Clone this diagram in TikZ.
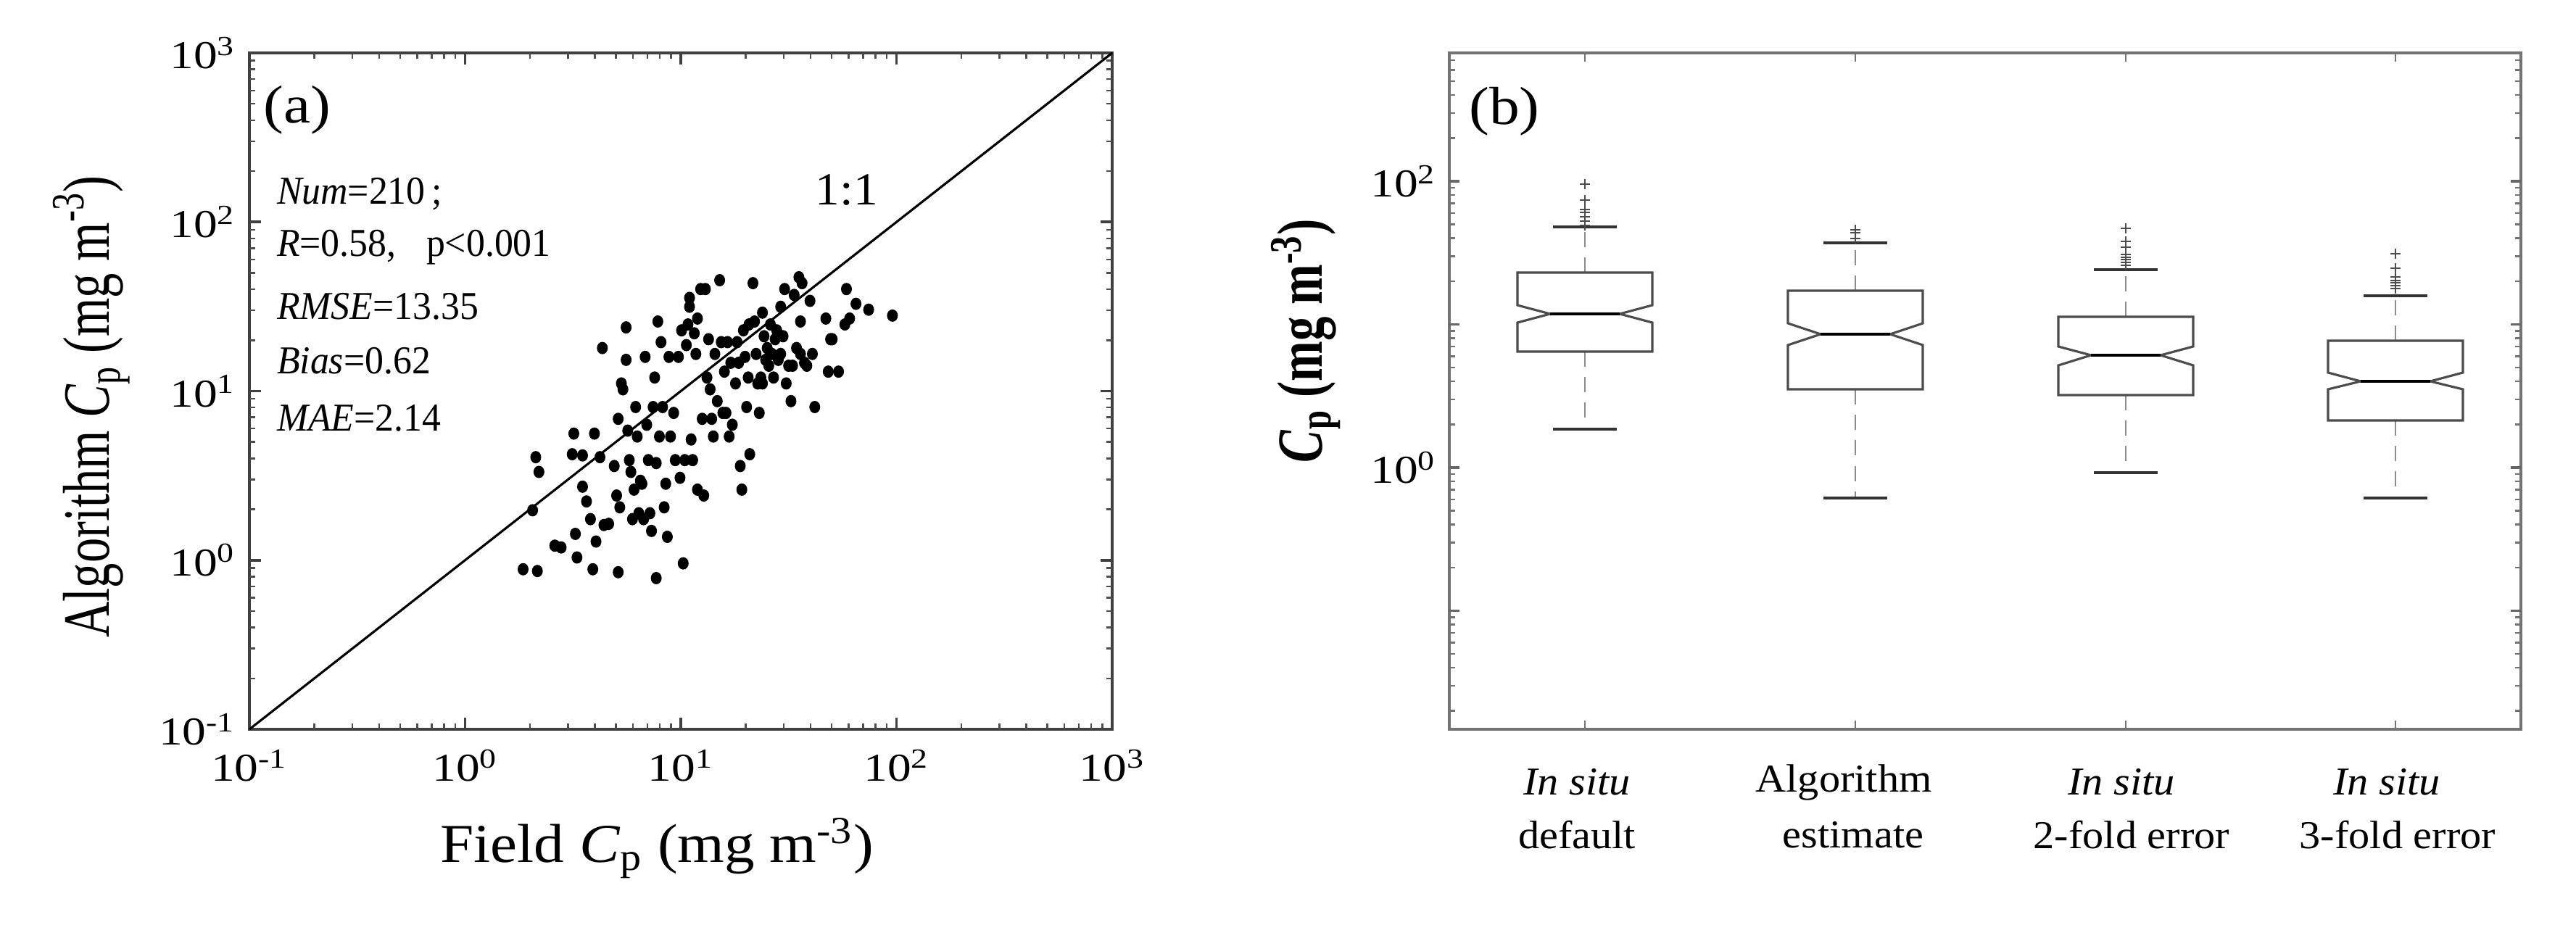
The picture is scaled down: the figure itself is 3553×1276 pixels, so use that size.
\documentclass[tikz,border=0pt]{standalone}
\usepackage{fontspec}
\setmainfont{Liberation Serif}
\begin{document}
\begin{tikzpicture}[x=0.01cm,y=-0.01cm,
  tx/.style={transform shape,xscale=1.33,inner sep=1pt},
  tick/.style={transform shape,xscale=1.2,inner sep=1pt,font={\fontsize{15.5}{17}\selectfont}},
  stat/.style={transform shape,xscale=0.95,inner sep=1pt,font={\fontsize{15.5}{18}\selectfont},anchor=west},
  catl/.style={transform shape,xscale=1.07,inner sep=1pt,font={\fontsize{15.5}{18}\selectfont}},
  axa/.style={draw=black!75,line width=1.2pt},
  axb/.style={draw=black!55,line width=1.4pt},
  bx/.style={draw=black!70,line width=0.9pt},
  wh/.style={draw=black!45,line width=0.8pt,dash pattern=on 6pt off 4pt},
  whcap/.style={draw=black!80,line width=1.1pt},
  dot/.style={fill=black}]
\useasboundingbox (0,0) rectangle (3553,1276);
% ---------------- panel (a)
\draw[axa] (344,73) rectangle (1534,1006);
\foreach \d in {-1,0,1,2}{
  \foreach \m in {2,...,9}{
    \pgfmathsetmacro{\px}{344+(\d+1+log10(\m))*297.5}
    \pgfmathsetmacro{\py}{1006-(\d+1+log10(\m))*233.25}
    \draw[black!70,line width=0.7pt] (\px,1006)--(\px,998) (\px,73)--(\px,81);
    \draw[black!70,line width=0.7pt] (344,\py)--(352,\py) (1534,\py)--(1526,\py);
  }}
\foreach \k in {0,...,4}{
  \pgfmathsetmacro{\px}{344+\k*297.5}
  \pgfmathsetmacro{\py}{1006-\k*233.25}
  \draw[black!75,line width=1pt] (\px,1006)--(\px,990) (\px,73)--(\px,89);
  \draw[black!75,line width=1pt] (344,\py)--(360,\py) (1534,\py)--(1518,\py);
}
\node[tick,anchor=north] (xa0) at (344,1030) {10\textsuperscript{-1}};
\node[tick,anchor=north] (xa1) at (641.5,1030) {10\textsuperscript{0}};
\node[tick,anchor=north] (xa2) at (939,1030) {10\textsuperscript{1}};
\node[tick,anchor=north] (xa3) at (1236.5,1030) {10\textsuperscript{2}};
\node[tick,anchor=north] (xa4) at (1534,1030) {10\textsuperscript{3}};
\node[tick,anchor=east] (ya0) at (330,1006) {10\textsuperscript{-1}};
\node[tick,anchor=east] (ya1) at (330,772.75) {10\textsuperscript{0}};
\node[tick,anchor=east] (ya2) at (330,539.5) {10\textsuperscript{1}};
\node[tick,anchor=east] (ya3) at (330,306.25) {10\textsuperscript{2}};
\node[tick,anchor=east] (ya4) at (330,73) {10\textsuperscript{3}};
\coordinate (ll) at (344,1006);
\coordinate (ur) at (1534,73);
\draw[black,line width=0.9pt] (ll)--(ur);
\node[tx,xscale=0.85,font={\fontsize{21}{24}\selectfont}] (la) at (410,152) {(a)};
\node[tx,xscale=0.8,font={\fontsize{18}{20}\selectfont}] (one) at (1168,262) {1:1};
\node[stat] (s1) at (378,268) {\textit{Num}=210\,;};
\node[stat] (s2) at (378,341) {\textit{R}=0.58,\;\; p<0.001};
\node[stat] (s3) at (378,423) {\textit{RMSE}=13.35};
\node[stat] (s4) at (378,498) {\textit{Bias}=0.62};
\node[stat] (s5) at (378,577) {\textit{MAE}=2.14};
\node[tx,rotate=90,font={\fontsize{19.5}{22}\selectfont}] (yla) at (126,561) {Algorithm \textit{C}\textsubscript{p} (mg m\textsuperscript{-3})};
\node[transform shape,xscale=1.1,inner sep=1pt,font={\fontsize{21.5}{24}\selectfont}] (xla) at (906,1170) {Field \textit{C}\textsubscript{p} (mg m\textsuperscript{-3})};
\begin{scope}[x=0.01092cm,y=-0.00813cm]
\foreach \a/\b in {660/965,678/968,672/865,676/775,680/800,700/925,708/928,728/945,726/905,724/735,722/770,735/772,735/825,740/850,745/880,748/965,750/735,752/918,757/775,760/590,762/890,768/888,775/790,778/840,780/970,780/710,782/860,784/650,786/660,790/555,790/610,792/730,794/780,796/800,798/880,800/830,802/690,804/740,806/870,808/815,810/820,812/880,814/605,816/720,818/780,820/870,822/900,824/690,826/640,828/785,828/980,830/545,832/740,834/580,836/690,838/860,840/820,842/910,844/605,846/740,850/700,852/780,856/605,858/810,862/955,864/780,866/585,868/550,870/505,872/745,874/780,876/565,878/600,880/830,884/490,886/710,888/840,890/490,892/640,894/575,896/660,898/710,900/740,902/600,905/680,908/475,910/580,912/700,914/630,916/700,918/580,920/740,922/615,924/720,928/650,930/580,932/615,934/790,936/830,938/560,940/605,942/690,944/640,946/770,950/480,952/545,954/600,956/650,958/700,960/640,962/530,964/570,966/610,968/590,970/620,972/550,974/600,976/640,978/575,980/560,982/610,985/600,988/570,990/490,992/650,995/620,998/680,1002/500,1005/590,1008/470,1010/545,1012/480,1015/615,1018/620,1022/510,1025/600,1028/690,1042/540,1045/630,1048/575,1050/575,1058/630,1066/550,1068/490,1072/540,1080/515,1096/525,1126/535,1010/600,860/560,880/540,870/520,945/550,962/650,985/520,1000/620}
  \fill[dot] (\a,\b) ellipse [x radius=0.075cm, y radius=0.085cm];
\end{scope}
% ---------------- panel (b)
\draw[axb] (1999,73) rectangle (3477,1006);
\foreach \d in {-2,-1,0,1,2}{
  \foreach \m in {2,...,9}{
    \pgfmathsetmacro{\py}{645-(\d+log10(\m))*197.5}
    \pgfmathparse{(\py>80)&&(\py<1000)?1:0}
    \ifnum\pgfmathresult=1
      \draw[black!55,line width=0.7pt] (1999,\py)--(2007,\py) (3477,\py)--(3469,\py);
    \fi
  }}
\foreach \d in {-1,0,1,2}{
  \pgfmathsetmacro{\py}{645-\d*197.5}
  \draw[black!60,line width=1pt] (1999,\py)--(2013,\py) (3477,\py)--(3463,\py);
}
\node[tick,anchor=east] (yb2) at (1986,250) {10\textsuperscript{2}};
\node[tick,anchor=east] (yb0) at (1986,645) {10\textsuperscript{0}};
\node[tx,xscale=0.85,font={\fontsize{21}{24}\selectfont}] (lb) at (2075,154) {(b)};
\node[tx,rotate=90,font={\fontsize{19}{22}\selectfont\bfseries}] (ylb) at (1801,470) {\textit{C}\textsubscript{p} (mg m\textsuperscript{-3})};
\foreach \cx/\t/\b/\md/\na/\nb/\wt/\wb in
 {2186/376/485/433/421/445/313/592,
  2559/401/537/461/446/476/335/687,
  2932/437/545/490/478/504/372/652,
  3304/470/580/526/514/537/408/687}{
  \draw[black!55,line width=0.8pt] (\cx,73)--(\cx,85) (\cx,1006)--(\cx,994);
  \draw[wh] (\cx,\t)--(\cx,\wt) (\cx,\b)--(\cx,\wb);
  \draw[whcap] (\cx-44,\wt)--(\cx+44,\wt) (\cx-44,\wb)--(\cx+44,\wb);
  \draw[bx,fill=white] (\cx-93,\t)--(\cx+93,\t)--(\cx+93,\na)--(\cx+48,\md)--(\cx+93,\nb)--(\cx+93,\b)
     --(\cx-93,\b)--(\cx-93,\nb)--(\cx-48,\md)--(\cx-93,\na)--cycle;
  \draw[black,line width=1.1pt] (\cx-48,\md)--(\cx+48,\md);
}
\foreach \cx/\oy in {2186/254,2186/276,2186/289,2186/293,2186/299,2186/305,2186/311,
  2559/317,2559/321,2559/329,
  2932/315,2932/333,2932/341,2932/351,2932/355,2932/358,2932/362,2932/366,
  3304/350,3304/370,3304/382,3304/387,3304/390,3304/394,3304/398}
  \draw[black!70,line width=0.8pt] (\cx-7,\oy)--(\cx+7,\oy) (\cx,\oy-7)--(\cx,\oy+7);
\node[catl] (c1a) at (2175,1079) {\textit{In situ}};
\node[catl] (c1b) at (2175,1152) {default};
\node[catl] (c2a) at (2543,1079) {Algorithm};
\node[catl] (c2b) at (2556,1152) {estimate};
\node[catl] (c3a) at (2926,1079) {\textit{In situ}};
\node[catl] (c3b) at (2940,1152) {2-fold error};
\node[catl] (c4a) at (3292,1079) {\textit{In situ}};
\node[catl] (c4b) at (3307,1152) {3-fold error};
\end{tikzpicture}
\end{document}
